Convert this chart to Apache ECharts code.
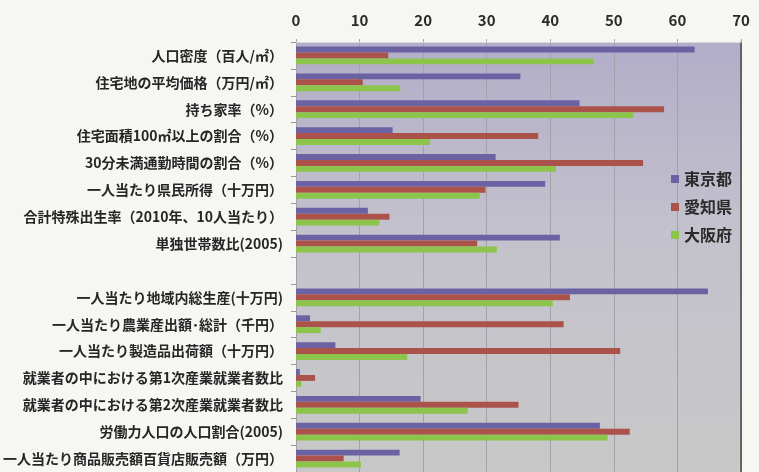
<!DOCTYPE html>
<html>
<head>
<meta charset="utf-8">
<script src="https://cdn.jsdelivr.net/npm/echarts@6/dist/echarts.min.js"></script>
<style>
  html, body { margin: 0; padding: 0; background: #f6f6f3; }
  #chart { width: 759px; height: 472px; }
</style>
</head>
<body>
<div id="chart"></div>
<script>
// 指標（空文字は区切りの空行）
const categories = [
  '人口密度（百人/㎡）',
  '住宅地の平均価格（万円/㎡）',
  '持ち家率（%）',
  '住宅面積100㎡以上の割合（%）',
  '30分未満通勤時間の割合（%）',
  '一人当たり県民所得（十万円）',
  '合計特殊出生率（2010年、10人当たり）',
  '単独世帯数比(2005)',
  '',
  '一人当たり地域内総生産(十万円)',
  '一人当たり農業産出額･総計（千円）',
  '一人当たり製造品出荷額（十万円）',
  '就業者の中における第1次産業就業者数比',
  '就業者の中における第2次産業就業者数比',
  '労働力人口の人口割合(2005)',
  '一人当たり商品販売額百貨店販売額（万円）'
]

const tokyo = [62.7, 35.3, 44.6, 15.2, 31.4, 39.2, 11.3, 41.5, null, 64.8, 2.2, 6.2, 0.6, 19.6, 47.8, 16.3]
const aichi = [14.5, 10.5, 57.9, 38.1, 54.6, 29.8, 14.7, 28.5, null, 43.1, 42.1, 51.0, 3.0, 35.0, 52.5, 7.5]
const osaka = [46.8, 16.4, 53.1, 21.1, 40.9, 28.9, 13.1, 31.6, null, 40.4, 3.9, 17.5, 0.8, 27.0, 49.0, 10.2]

const xTicks = [0, 10, 20, 30, 40, 50, 60, 70]

const font = '"Noto Sans CJK JP", "Noto Sans", sans-serif'

const chart = echarts.init(document.getElementById('chart'))

chart.setOption({
  backgroundColor: '#f6f6f3',
  animation: false,
  textStyle: { fontFamily: font },
  legend: {
    orient: 'vertical',
    right: 22,
    top: 166,
    itemWidth: 8,
    itemHeight: 8,
    itemGap: 12,
    icon: 'rect',
    textStyle: { fontSize: 16, fontWeight: 'bold', color: '#2a2a2a', fontFamily: font },
    data: ['東京都', '愛知県', '大阪府']
  },
  grid: {
    left: 296,
    right: 18,
    top: 42,
    height: 432,
    show: true,
    borderWidth: 0,
    backgroundColor: new echarts.graphic.LinearGradient(0, 0, 0, 1, [
      { offset: 0, color: '#b2adc9' },
      { offset: 0.45, color: '#c3c2cc' },
      { offset: 1, color: '#c8c8c8' }
    ])
  },
  xAxis: {
    type: 'value',
    position: 'top',
    min: xTicks[0],
    max: xTicks[xTicks.length - 1],
    interval: 10,
    axisLine: { show: true, lineStyle: { color: '#d8d8d8', width: 1 } },
    axisTick: { show: true, length: 3, lineStyle: { color: '#aaa' } },
    axisLabel: {
      margin: 14,
      fontSize: 15,
      fontWeight: 'bold',
      color: '#2a2a2a',
      fontFamily: font
    },
    splitLine: { show: true, lineStyle: { color: '#a3a2aa', width: 1 } }
  },
  yAxis: [
    {
      type: 'category',
      inverse: true,
      data: categories,
      axisLine: { show: false },
      axisTick: { show: true, length: 5, lineStyle: { color: '#999' } },
      axisLabel: {
        margin: 13,
        fontSize: 14,
        fontWeight: 'bold',
        color: '#262626',
        fontFamily: font
      }
    },
    {
      type: 'category',
      position: 'right',
      inverse: true,
      data: categories,
      axisLine: { show: true, lineStyle: { color: '#4a4a4a', width: 1.5 } },
      axisTick: { show: false },
      axisLabel: { show: false }
    }
  ],
  series: [
    {
      name: '東京都',
      type: 'bar',
      data: tokyo,
      barGap: '0%',
      barCategoryGap: '34%',
      itemStyle: { color: '#6a62a3' }
    },
    {
      name: '愛知県',
      type: 'bar',
      data: aichi,
      itemStyle: { color: '#ab534b' }
    },
    {
      name: '大阪府',
      type: 'bar',
      data: osaka,
      itemStyle: { color: '#8dc44b' }
    }
  ]
})
</script>
</body>
</html>
